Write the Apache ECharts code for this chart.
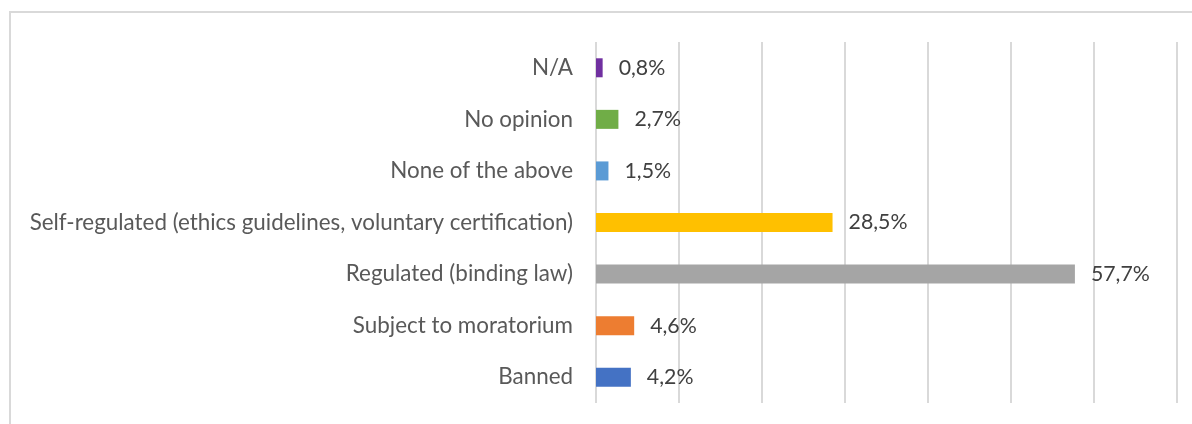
<!DOCTYPE html>
<html>
<head>
<meta charset="utf-8">
<script src="https://cdn.jsdelivr.net/npm/echarts@6/dist/echarts.min.js"></script>
<style>
  html, body { margin: 0; padding: 0; background: #fff; }
  #chart { width: 1192px; height: 424px; }
</style>
</head>
<body>
<div id="chart"></div>
<script>
  // categories from bottom to top
  const categories = [
    'Banned',
    'Subject to moratorium',
    'Regulated (binding law)',
    'Self-regulated (ethics guidelines, voluntary certification)',
    'None of the above',
    'No opinion',
    'N/A'
  ]
  const values = [4.2, 4.6, 57.7, 28.5, 1.5, 2.7, 0.8]
  const barColors = ['#4472C4', '#ED7D31', '#A5A5A5', '#FFC000', '#5B9BD5', '#70AD47', '#7030A0']

  const chart = echarts.init(document.getElementById('chart'))
  chart.setOption({
    animation: false,
    textStyle: { fontFamily: 'Lato' },
    graphic: [{
      type: 'rect',
      shape: { x: 10, y: 12, width: 1200, height: 500 },
      style: { fill: 'none', stroke: '#d9d9d9', lineWidth: 2 },
      silent: true
    }],
    grid: {
      left: 596,
      right: 15,
      top: 42,
      bottom: 21,
      containLabel: false
    },
    xAxis: {
      type: 'value',
      min: 0,
      max: 70,
      interval: 10,
      axisLabel: { show: false },
      axisLine: { show: false },
      axisTick: { show: false },
      splitLine: { lineStyle: { color: '#d9d9d9', width: 2 } }
    },
    yAxis: {
      type: 'category',
      data: categories,
      axisLine: { show: false },
      axisTick: { show: false },
      axisLabel: {
        color: '#595959',
        fontSize: 22.4,
        margin: 23
      }
    },
    series: [{
      type: 'bar',
      barWidth: 19,
      data: values.map((v, i) => ({ value: v, itemStyle: { color: barColors[i] } })),
      label: {
        show: true,
        position: 'right',
        distance: 16,
        color: '#404040',
        fontSize: 21.3,
        formatter: p => p.value.toFixed(1).replace('.', ',') + '%'
      }
    }]
  })
</script>
</body>
</html>
